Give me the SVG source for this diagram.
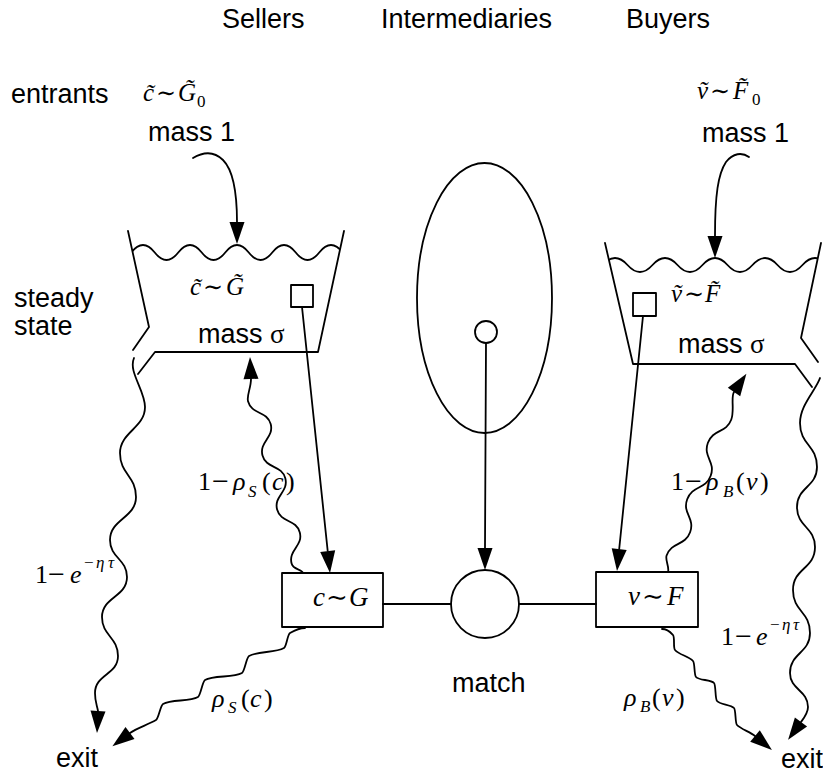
<svg xmlns="http://www.w3.org/2000/svg" width="823" height="779" viewBox="0 0 823 779">
<style>
.ln{fill:none;stroke:#000;stroke-width:1.8;stroke-linejoin:round;stroke-linecap:round}
.ah{fill:#000;stroke:none}
.t{font-family:"Liberation Sans",Arial,sans-serif;font-size:27px;fill:#000}
.m{font-family:"Liberation Serif","Times New Roman",serif;font-style:italic;font-size:26px;fill:#000}
.s{font-size:25px}
.u{font-style:normal}
.sim{font-family:"DejaVu Serif","Liberation Serif",serif;font-style:normal;font-size:24px}
.mi{font-style:normal;font-size:30px}
.sub{font-size:17px}
.sup{font-size:17px}
</style>
<defs>
<clipPath id="clipL"><polygon points="128,231 344,231 318,352 149,327"/></clipPath>
<clipPath id="clipR"><polygon points="605,243 821,243 801,338 633,364"/></clipPath>
</defs>

<g id="headers">
<text class="t" x="222" y="28">Sellers</text>
<text class="t" x="381" y="28">Intermediaries</text>
<text class="t" x="626" y="28">Buyers</text>
<text class="t" x="11" y="103">entrants</text>
<text class="t" x="14" y="307">steady</text>
<text class="t" x="14" y="335">state</text>
</g>

<g id="seller-entrants">
<text class="m s"><tspan x="143" y="101">c&#x303;</tspan><tspan class="sim" x="156" y="101">∼</tspan><tspan x="178" y="101">G&#x303;</tspan><tspan class="u sub" x="197" y="107">0</tspan></text>
<text class="t" x="148" y="141">mass 1</text>
</g>

<g id="buyer-entrants">
<text class="m s"><tspan x="697" y="99">v&#x303;</tspan><tspan class="sim" x="710" y="99">∼</tspan><tspan x="733" y="99">F&#x303;</tspan><tspan class="u sub" x="752" y="105">0</tspan></text>
<text class="t" x="702" y="142">mass 1</text>
</g>

<g id="seller-pool">
<polyline class="ln" points="128,231 149,327 133,350"/>
<polyline class="ln" points="138,374 155,352 318,352 344,231"/>
<path class="ln" clip-path="url(#clipL)" d="M131.25,252.5 Q143,237.5 154.75,252.5 T178.25,252.5 T201.75,252.5 T225.25,252.5 T248.75,252.5 T272.25,252.5 T295.75,252.5 T319.25,252.5 T342.75,252.5"/>
<text class="m s"><tspan x="190" y="295">c&#x303;</tspan><tspan class="sim" x="203" y="295">∼</tspan><tspan x="226" y="295">G&#x303;</tspan></text>
<rect class="ln" x="291" y="285" width="22" height="22"/>
<text class="t" x="198" y="343">mass <tspan style="font-family:'Liberation Serif',serif">σ</tspan></text>
</g>

<g id="buyer-pool">
<polyline class="ln" points="605,243 633,364 795,364 812,387"/>
<polyline class="ln" points="821,243 801,338 818,362"/>
<path class="ln" clip-path="url(#clipR)" d="M602.5,265 Q615,251 627.5,265 T652.5,265 T677.5,265 T702.5,265 T727.5,265 T752.5,265 T777.5,265 T802.5,265 T827.5,265"/>
<text class="m s"><tspan x="671" y="302">v&#x303;</tspan><tspan class="sim" x="684" y="302">∼</tspan><tspan x="705" y="302">F&#x303;</tspan></text>
<rect class="ln" x="633" y="293" width="23" height="23"/>
<text class="t" x="678" y="353">mass <tspan style="font-family:'Liberation Serif',serif">σ</tspan></text>
</g>

<g id="intermediaries">
<ellipse class="ln" cx="484.5" cy="298" rx="67.5" ry="135"/>
<circle class="ln" cx="486" cy="332" r="11"/>
</g>

<g id="seller-box">
<rect class="ln" x="282" y="573" width="101" height="54"/>
<text class="m" style="font-size:27px"><tspan x="313" y="606">c</tspan><tspan class="sim" style="font-size:26px" x="326" y="606">∼</tspan><tspan x="349" y="606">G</tspan></text>
</g>

<g id="match">
<circle class="ln" cx="485" cy="604" r="34"/>
<text class="t" x="452" y="692">match</text>
</g>

<g id="buyer-box">
<rect class="ln" x="596" y="572" width="102" height="55"/>
<text class="m" style="font-size:27px"><tspan x="628" y="605">v</tspan><tspan class="sim" style="font-size:26px" x="642" y="605">∼</tspan><tspan x="667" y="605">F</tspan></text>
</g>

<g id="exit-left"><text class="t" x="56" y="767">exit</text></g>
<g id="exit-right"><text class="t" x="781" y="768">exit</text></g>

<g id="labels">
<text class="m"><tspan class="u" x="198" y="490">1</tspan><tspan class="mi" x="212" y="491">−</tspan><tspan x="233" y="490">ρ</tspan><tspan class="sub" x="248" y="497">S</tspan><tspan class="u" x="262" y="490">(</tspan><tspan x="272" y="490">c</tspan><tspan class="u" x="286" y="490">)</tspan></text>
<text class="m"><tspan class="u" x="35" y="583">1</tspan><tspan class="mi" x="48" y="584">−</tspan><tspan x="70" y="583">e</tspan><tspan class="u sup" x="84" y="568">−</tspan><tspan class="sup" x="96" y="568">η</tspan><tspan class="sup" x="108" y="568">τ</tspan></text>
<text class="m"><tspan x="212" y="707">ρ</tspan><tspan class="sub" x="228" y="713">S</tspan><tspan class="u" x="241" y="707">(</tspan><tspan x="250" y="707">c</tspan><tspan class="u" x="264" y="707">)</tspan></text>
<text class="m"><tspan class="u" x="671" y="490">1</tspan><tspan class="mi" x="685" y="491">−</tspan><tspan x="706" y="490">ρ</tspan><tspan class="sub" x="723" y="497">B</tspan><tspan class="u" x="736" y="490">(</tspan><tspan x="746" y="490">v</tspan><tspan class="u" x="760" y="490">)</tspan></text>
<text class="m"><tspan class="u" x="721" y="645">1</tspan><tspan class="mi" x="735" y="646">−</tspan><tspan x="756" y="645">e</tspan><tspan class="u sup" x="770" y="630">−</tspan><tspan class="sup" x="782" y="630">η</tspan><tspan class="sup" x="793" y="630">τ</tspan></text>
<text class="m"><tspan x="624" y="706">ρ</tspan><tspan class="sub" x="640" y="712">B</tspan><tspan class="u" x="652" y="706">(</tspan><tspan x="662" y="706">v</tspan><tspan class="u" x="676" y="706">)</tspan></text>
</g>

<g id="connectors">
<path class="ln" d="M193,158 C203,152 214,151 223,160 C233,170 237,190 237,222"/>
<polygon class="ah" points="237,244 229.5,222 244.5,222"/>
<path class="ln" d="M749,157 C742,152 733,153 726,162 C718,174 715,195 715,236"/>
<polygon class="ah" points="715,258 707.5,236 722.5,236"/>
<line class="ln" x1="302" y1="307" x2="327.7" y2="551"/>
<polygon class="ah" points="330,573 335.2,550.3 320.2,551.9"/>
<line class="ln" x1="643" y1="316" x2="619.2" y2="549"/>
<polygon class="ah" points="617,571 626.7,549.9 611.7,548.3"/>
<line class="ln" x1="486" y1="343" x2="485" y2="548"/>
<polygon class="ah" points="485,570 477.5,548 492.5,548"/>
<line class="ln" x1="383" y1="604" x2="451" y2="604"/>
<line class="ln" x1="519" y1="604" x2="596" y2="604"/>
<path class="ln" d="M134,358 C128,372 145,390 145,407 C145,428 120,432 120,453 C120,474 136,476 136,497 C136,518 110,519 110,540 C110,558 127,559 127,577 C127,597 102,597 102,617 C102,636 118,637 118,656 C118,675 95,674 95,693 C95,702 97,705 98,711"/>
<polygon class="ah" points="97,733 105.5,711.4 90.5,710.6"/>
<path class="ln" d="M303,573 C301.2,568.2 293.4,570.4 291.6,563.6 C288,550.1 303.4,545.9 299.8,532.4 C296.2,518.9 280.7,523 277.1,509.5 C273.5,496 288.9,491.8 285.3,478.3 C281.7,464.8 266.1,468.9 262.5,455.4 C258.9,441.9 274.3,437.6 270.7,424.1 C267.1,410.6 251.6,414.8 248,401.3 C246.5,395.5 251,388 251,379"/>
<polygon class="ah" points="250,357 258.5,378.7 243.5,379.3"/>
<path class="ln" d="M305,628 C300,628 292.6,631.5 290,633 C287.4,634.5 286.6,646.5 284,648 C275.3,653 257.7,651 249,656 C246.4,657.5 244.6,671.5 242,673 C233.3,678 213.7,675 205,680 C202.4,681.5 200.6,695.5 198,697 C189.3,702 171.7,699 163,704 C160.4,705.5 158.6,718.5 156,720 C147.3,725 136.4,728.2 130,733"/>
<polygon class="ah" points="112.4,746.2 134.5,739 125.5,727"/>
<path class="ln" d="M820,378 C816,390 800,405 800,423 C800,445 817,445 817,467 C817,487 797,487 797,507 C797,527 815,527 815,547 C815,569 793,568 793,590 C793,612 810,611 810,633 C810,653 790,653 790,673 C790,690 808,690 808,707 C808,713 804,718 801,722"/>
<polygon class="ah" points="788.1,739.8 807.1,726.4 794.9,717.6"/>
<path class="ln" d="M668,572 C669.7,567.3 664.9,560.2 666.6,555.5 C671.8,541.4 684.9,546.3 690.1,532.2 C695.3,518.1 682,513.3 687.2,499.2 C692.4,485.1 705.5,489.9 710.7,475.8 C715.9,461.7 702.7,456.9 707.9,442.8 C713.1,428.7 726.1,433.6 731.3,419.5 C734.7,410.1 730.6,397 734,392"/>
<polygon class="ah" points="746.4,373.8 740.2,396.2 727.8,387.8"/>
<path class="ln" d="M662,629 C668,629 671,632.8 673,635 C675,637.2 673,647.8 675,650 C679.6,655.2 688.4,655.8 693,661 C695,663.2 694,674.8 696,677 C699.3,680.7 710.7,679.3 714,683 C716,685.2 715,698.8 717,701 C720.3,704.7 730.7,704.3 734,708 C736,710.2 735,722.8 737,725 C740.3,728.7 750.4,732.2 755,736"/>
<polygon class="ah" points="771.9,750.1 759.8,730.2 750.2,741.8"/>
</g>
</svg>
